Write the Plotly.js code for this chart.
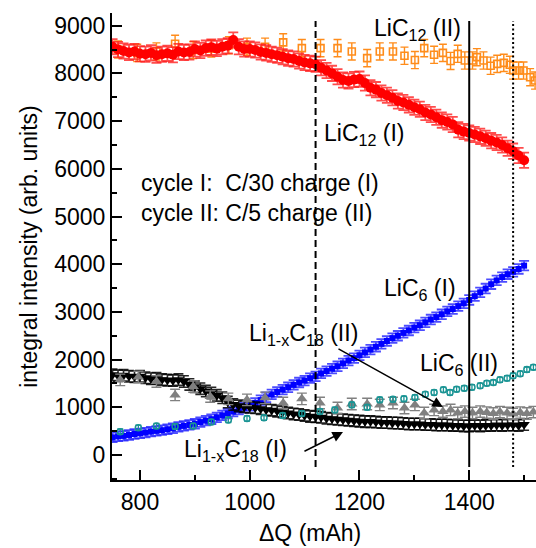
<!DOCTYPE html>
<html>
<head>
<meta charset="utf-8">
<script src="https://cdn.plot.ly/plotly-3.0.1.min.js"></script>
<style>
  html, body { margin: 0; padding: 0; background: #fff; }
  #chart { width: 536px; height: 548px; }
</style>
</head>
<body>
<div id="chart"></div>
<script>
// Charge-dependent integral intensities of the lithium-graphite phases

// LiC12, cycle I (C/30)
const liC12_I_x = [750,760,770,780,790,800,810,820,830,840,850,860,870,880,890,900,910,920,930,940,950,960,970,980,990,
  1000,1010,1020,1030,1040,1050,1060,1070,1080,1090,1100,1110,1120,1130,1140,1150,1160,1170,1180,1190,
  1200,1210,1220,1230,1240,1250,1260,1270,1280,1290,1300,1310,1320,1330,1340,1350,1360,1370,1380,1390,
  1400,1410,1420,1430,1440,1450,1460,1470,1480,1490,1500];
const liC12_I_y = [8560,8500,8470,8440,8460,8410,8400,8430,8380,8400,8420,8390,8460,8440,8450,8510,8480,8530,8550,8520,8560,8580,8700,8560,8510,
  8510,8490,8450,8430,8400,8380,8350,8320,8300,8260,8230,8210,8190,8120,8060,8000,7930,7860,7840,7870,
  7880,7800,7700,7660,7590,7540,7490,7420,7390,7340,7290,7250,7180,7140,7080,7020,6980,6930,6820,6780,
  6750,6720,6680,6640,6590,6550,6500,6430,6370,6280,6180];

// LiC12, cycle II (C/5)
const liC12_II_x = [760,795,830,864,897,930,962,995,1028,1061,1095,1129,1160,1186,1214,1237,1261,1282,1301,1318,
  1336,1352,1366,1379,1392,1406,1414,1426,1439,1451,1463,1474,1480,1490,1499,1511,1520];
const liC12_II_y = [8500,8430,8460,8620,8490,8520,8590,8560,8560,8650,8530,8530,8530,8460,8320,8460,8460,8370,8280,8530,
  8390,8430,8260,8410,8270,8270,8340,8270,8160,8200,8220,8180,8060,8060,8060,7920,7850];

// LiC6, cycle I
const liC6_I_x = liC12_I_x;
const liC6_I_y = [370,390,400,420,440,455,470,490,505,520,540,560,590,610,630,655,690,720,750,790,830,870,910,950,990,
  1030,1090,1150,1210,1270,1320,1370,1420,1470,1520,1560,1610,1650,1710,1760,1810,1860,1920,1980,2030,
  2090,2150,2210,2270,2330,2390,2450,2500,2560,2610,2670,2720,2780,2840,2890,2950,3010,3060,3120,3180,
  3250,3330,3410,3490,3580,3660,3730,3790,3840,3900,3970];

// LiC6, cycle II
const liC6_II_x = [764,797,830,864,897,930,961,995,1026,1060,1095,1128,1155,1186,1214,1237,1261,1281,1301,1320,
  1336,1353,1365,1377,1391,1405,1420,1432,1444,1456,1469,1480,1493,1505,1517];
const liC6_II_y = [490,570,610,600,610,690,736,765,780,830,870,910,946,1051,1002,1156,1170,1177,1205,1275,
  1310,1366,1310,1380,1401,1422,1450,1506,1520,1576,1611,1660,1702,1790,1840];

// Li(1-x)C18, cycle I
const liC18_I_x = liC12_I_x;
const liC18_I_y = [1680,1660,1670,1650,1640,1650,1620,1600,1610,1580,1570,1560,1580,1540,1480,1430,1390,1340,1300,1250,1200,1110,1060,1030,1010,
  1000,990,970,950,940,920,900,880,860,850,830,810,800,790,770,760,750,740,730,720,
  710,700,700,690,680,680,670,670,660,650,650,650,640,640,630,630,630,620,620,610,
  610,620,610,620,620,630,620,630,630,620,640];

// Li(1-x)C18, cycle II
const liC18_II_x = [764,797,830,864,897,928,961,995,1028,1061,1095,1128,1160,1186,1214,1237,1261,1282,1301,1318,
  1336,1352,1366,1379,1392,1406,1420,1432,1444,1456,1469,1480,1493,1505,1517];
const liC18_II_y = [1575,1635,1540,1260,1435,1225,1177,1156,1198,1090,1177,1090,985,1070,1070,1050,1090,985,1050,880,
  945,910,945,880,910,880,910,890,870,900,880,860,890,870,900];

// symmetric error bar half-widths per series
const err = { liC12_I: 160, liC12_II: 180, liC6_I: 100, liC6_II: 55, liC18_I: 120, liC18_II: 120 };

// the three charge states marked across the plot
const stateLines = [
  { x: 1120, dash: '7px,4px', width: 2 },
  { x: 1400, dash: 'solid', width: 2 },
  { x: 1480, dash: '2px,2.5px', width: 2 }
];

function series(x, y, e, color, errColor, symbol, size, lineW, capW, errW) {
  return {
    type: 'scatter', mode: 'markers', x: x, y: y,
    error_y: { type: 'constant', value: e, color: errColor, thickness: errW, width: capW },
    marker: { symbol: symbol, size: size, color: color, line: { color: color, width: lineW } },
    showlegend: false, hoverinfo: 'skip'
  };
}

const traces = [
  series(liC12_II_x, liC12_II_y, err.liC12_II, '#ff8c1a', '#ff8c1a', 'square-open', 7, 1.6, 4, 1.4),
  series(liC12_I_x, liC12_I_y, err.liC12_I, '#ff0000', 'rgba(255,30,30,0.8)', 'circle', 10, 0, 5, 1.8),
  series(liC6_I_x, liC6_I_y, err.liC6_I, '#0000ff', 'rgba(30,30,255,0.8)', 'square', 6, 0, 5, 1.8),
  series(liC18_I_x, liC18_I_y, err.liC18_I, '#000000', 'rgba(0,0,0,0.85)', 'triangle-down', 10, 0, 5, 1.6),
  series(liC18_II_x, liC18_II_y, err.liC18_II, '#808080', '#808080', 'triangle-up', 10, 0, 5, 1.4),
  series(liC6_II_x, liC6_II_y, err.liC6_II, '#1a9494', '#1a9494', 'circle-open', 6, 1.5, 3, 1.3)
];

const font = { family: 'Liberation Sans, Arial, sans-serif', size: 23, color: '#000' };

function label(text, x, y) {
  return { text: text, x: x, y: y, xref: 'x', yref: 'y', xanchor: 'left', yanchor: 'middle',
           showarrow: false, font: font };
}
function arrow(x, y, ax, ay) {
  return { text: '', x: x, y: y, ax: ax, ay: ay, xref: 'x', yref: 'y', axref: 'x', ayref: 'y',
           showarrow: true, arrowhead: 2, arrowsize: 1.4, arrowwidth: 1.5, arrowcolor: '#000', standoff: 0 };
}

const annotations = [
  label('LiC<sub>12</sub> (II)', 1223, 8910),
  label('LiC<sub>12</sub> (I)', 1132, 6710),
  label('cycle I:  C/30 charge (I)', 798, 5700),
  label('cycle II: C/5 charge (II)', 798, 5075),
  label('LiC<sub>6</sub> (I)', 1241, 3460),
  label('Li<sub>1-x</sub>C<sub>18</sub> (II)', 995, 2516),
  label('LiC<sub>6</sub> (II)', 1307, 1887),
  label('Li<sub>1-x</sub>C<sub>18</sub> (I)', 877, 105),
  arrow(1352, 1006, 1159, 2243),
  arrow(1170, 482, 1097, 63),
  // x-axis title, centred under the full axis span
  { text: 'ΔQ (mAh)', x: 1110, y: -0.114, xref: 'x', yref: 'paper', xanchor: 'center', yanchor: 'middle',
    showarrow: false, font: font }
];

const shapes = stateLines.map(s => ({
  type: 'line', xref: 'x', yref: 'y', x0: s.x, x1: s.x, y0: -250, y1: 9100,
  line: { color: '#000', width: s.width, dash: s.dash }, layer: 'above'
}));

const xRange = [749, 1521.7];

const layout = {
  width: 536, height: 548,
  margin: { l: 112, r: 0, t: 13, b: 68 },
  paper_bgcolor: '#fff', plot_bgcolor: '#fff',
  font: font,
  showlegend: false,
  xaxis: {
    range: xRange, showgrid: false, zeroline: false,
    showline: true, linecolor: '#000', linewidth: 2,
    ticks: 'inside', ticklen: 10, tickwidth: 2, tickcolor: '#000',
    tick0: 800, dtick: 200,
    minor: { ticks: 'inside', ticklen: 5, tickwidth: 2, tickcolor: '#000', dtick: 100 },
    tickfont: font
  },
  xaxis2: {
    overlaying: 'x', side: 'top', range: xRange, showgrid: false, zeroline: false,
    showline: true, linecolor: '#000', linewidth: 2,
    ticks: 'outside', ticklen: 3, tickwidth: 1.5, tickcolor: '#000',
    tick0: 800, dtick: 100, showticklabels: false
  },
  yaxis: {
    range: [-524, 9266], showgrid: false, zeroline: false,
    showline: true, linecolor: '#000', linewidth: 2,
    ticks: 'inside', ticklen: 10, tickwidth: 2, tickcolor: '#000',
    tick0: 0, dtick: 1000,
    minor: { ticks: 'inside', ticklen: 5, tickwidth: 2, tickcolor: '#000', dtick: 500 },
    tickfont: font,
    title: { text: 'integral intensity (arb. units)', font: font, standoff: 10 }
  },
  annotations: annotations,
  shapes: shapes
};

Plotly.newPlot('chart', traces, layout, { staticPlot: true, displayModeBar: false });
</script>
</body>
</html>
